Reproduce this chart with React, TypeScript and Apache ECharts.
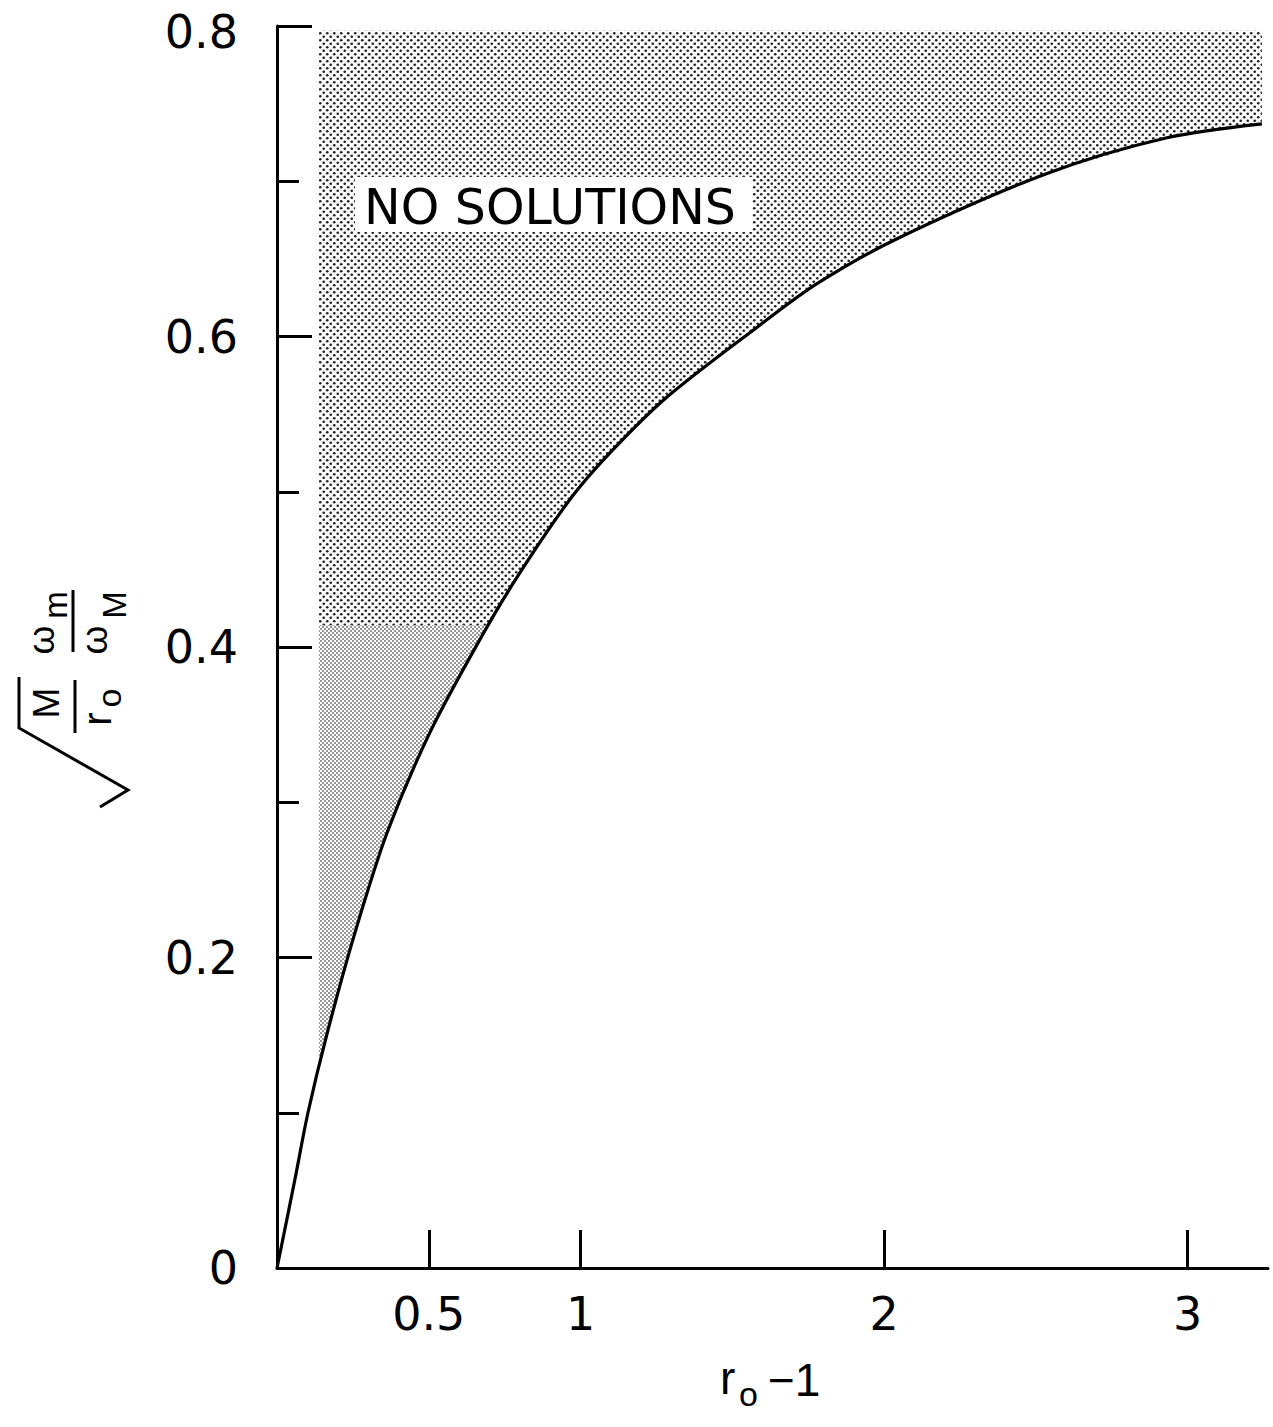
import React, { useEffect, useRef } from "react";
import * as echarts from "echarts";

// Curve: x = r0 - 1, y = sqrt(M/r0) * (omega_m / omega_M)
const curveX = [0, 0.059, 0.102, 0.165, 0.257, 0.362, 0.504, 0.669, 0.791, 0.965, 1.097, 1.285, 1.582, 1.779, 2.043, 2.537, 2.932, 3.245];
const curveY = [0, 0.057, 0.1, 0.151, 0.216, 0.28, 0.345, 0.405, 0.445, 0.495, 0.525, 0.561, 0.606, 0.634, 0.663, 0.705, 0.728, 0.737];

const xTickValues = [0.5, 1, 2, 3];
const xTickLabels = ["0.5", "1", "2", "3"];

// Shaded "no solutions" region bounds
const shadeLeft = 0.138;
const shadeTop = 0.797;
const darkTop = 0.414;

const regionLabel = "NO SOLUTIONS";
const FONT = "'DejaVu Sans', 'Liberation Sans', sans-serif";
const FONT2 = "'Liberation Sans', Arial, sans-serif";

function makeDots(size: number, r: number, color: string) {
  const c = document.createElement("canvas");
  c.width = size;
  c.height = size;
  const ctx = c.getContext("2d")!;
  ctx.fillStyle = "#ffffff";
  ctx.fillRect(0, 0, size, size);
  ctx.fillStyle = color;
  const pts = [
    [size / 4, size / 4],
    [(3 * size) / 4, (3 * size) / 4],
  ];
  pts.forEach(([x, y]) => {
    ctx.beginPath();
    ctx.arc(x, y, r, 0, Math.PI * 2);
    ctx.fill();
  });
  return c;
}

// point on the read curve at a given x (for the shading boundary)
function curveAtX(x: number): number {
  for (let i = 0; i < curveX.length - 1; i++) {
    if (x >= curveX[i] && x <= curveX[i + 1]) {
      const t = (x - curveX[i]) / (curveX[i + 1] - curveX[i]);
      return curveY[i] + t * (curveY[i + 1] - curveY[i]);
    }
  }
  return curveY[curveY.length - 1];
}
// x where the read curve reaches a given y
function curveAtY(y: number): number {
  for (let i = 0; i < curveY.length - 1; i++) {
    if (y >= curveY[i] && y <= curveY[i + 1]) {
      const t = (y - curveY[i]) / (curveY[i + 1] - curveY[i]);
      return curveX[i] + t * (curveX[i + 1] - curveX[i]);
    }
  }
  return curveX[curveX.length - 1];
}

export default function App() {
  const ref = useRef<HTMLDivElement>(null);

  useEffect(() => {
    document.body.style.margin = "0";
    if (!ref.current) return;
    const chart = echarts.init(ref.current, undefined, { renderer: "svg" });

    const upperTile = makeDots(7, 1.35, "#222222");
    const lowerTile = makeDots(4, 0.9, "#666666");
    const upperPattern: any = { image: upperTile, repeat: "repeat", imageWidth: 7, imageHeight: 7 };
    const lowerPattern: any = { image: lowerTile, repeat: "repeat", imageWidth: 4, imageHeight: 4 };

    const curveData = curveX.map((x, i) => [x, curveY[i]]);
    const last = curveX.length - 1;

    const renderRegion = (params: any, api: any) => {
      if (params.dataIndex !== 0) return null;
      const startY = curveAtX(shadeLeft);
      const upper: number[][] = [];
      upper.push(api.coord([shadeLeft, shadeTop]));
      upper.push(api.coord([shadeLeft, startY]));
      for (let i = 0; i <= last; i++) {
        if (curveX[i] > shadeLeft) upper.push(api.coord([curveX[i], curveY[i]]));
      }
      upper.push(api.coord([curveX[last], shadeTop]));

      const lower: number[][] = [];
      lower.push(api.coord([shadeLeft, darkTop]));
      lower.push(api.coord([shadeLeft, startY]));
      for (let i = 0; i <= last; i++) {
        if (curveX[i] > shadeLeft && curveY[i] < darkTop) lower.push(api.coord([curveX[i], curveY[i]]));
      }
      lower.push(api.coord([curveAtY(darkTop), darkTop]));
      return {
        type: "group",
        children: [
          { type: "polygon", shape: { points: upper }, style: { fill: upperPattern, stroke: null } },
          { type: "polygon", shape: { points: lower }, style: { fill: lowerPattern, stroke: null } },
        ],
      };
    };

    const tx = (text: string, x: number, y: number, size: number, align = "center", vAlign = "middle", family = FONT2) => ({
      type: "text",
      x,
      y,
      style: {
        text,
        fontSize: size,
        fontFamily: family,
        fill: "#000",
        align,
        verticalAlign: vAlign,
        textAlign: align,
        textVerticalAlign: vAlign,
      },
    });

    const option: any = {
      animation: false,
      backgroundColor: "#ffffff",
      grid: { left: 277, right: 5, top: 26, bottom: 159 },
      xAxis: {
        type: "value",
        min: 0,
        max: 3.265,
        axisLine: { show: true, onZero: false, lineStyle: { color: "#000", width: 3 } },
        axisTick: { show: true, inside: true, length: 38, customValues: xTickValues, lineStyle: { color: "#000", width: 3 } },
        axisLabel: {
          show: true,
          customValues: xTickValues,
          formatter: (v: number) => xTickLabels[xTickValues.indexOf(v)] ?? String(v),
          fontSize: 46,
          fontFamily: FONT,
          color: "#000",
          margin: 23,
        },
        splitLine: { show: false },
      },
      yAxis: {
        type: "value",
        min: 0,
        max: 0.8,
        interval: 0.2,
        axisLine: { show: true, onZero: false, lineStyle: { color: "#000", width: 3 } },
        axisTick: { show: true, inside: true, length: 35, lineStyle: { color: "#000", width: 3 } },
        minorTick: { show: true, splitNumber: 2, length: 22, lineStyle: { color: "#000", width: 3 } },
        axisLabel: {
          fontSize: 46,
          fontFamily: FONT,
          color: "#000",
          margin: 39,
          formatter: (v: number) => (v >= 0.79 ? "{t|" + v + "}" : "{n|" + v + "}"),
          rich: {
            t: { fontSize: 46, fontFamily: FONT, color: "#000", padding: [12, 0, 0, 0] },
            n: { fontSize: 46, fontFamily: FONT, color: "#000" },
          },
        },
        splitLine: { show: false },
        minorSplitLine: { show: false },
      },
      series: [
        {
          type: "custom",
          coordinateSystem: "cartesian2d",
          data: curveData,
          renderItem: renderRegion,
          silent: true,
          z: 1,
        },
        {
          type: "line",
          data: curveData,
          smooth: 0.3,
          showSymbol: false,
          symbol: "none",
          lineStyle: { color: "#000", width: 3.2 },
          silent: true,
          z: 5,
        },
      ],
      graphic: [
        {
          type: "rect",
          z: 50,
          shape: { x: 355, y: 177, width: 397, height: 55 },
          style: { fill: "#ffffff", stroke: null },
        },
        { ...tx(regionLabel, 364, 207, 49, "left", "middle", FONT), z: 51 },
        // x-axis title: r0 - 1
        { ...tx("r", 720, 1378, 46, "left", "middle"), z: 51 },
        { ...tx("o", 739, 1394, 34, "left", "middle"), z: 51 },
        { ...tx("\u22121", 768, 1380, 46, "left", "middle"), z: 51 },
        // y-axis title, rotated
        {
          type: "group",
          x: 74,
          y: 810,
          rotation: Math.PI / 2,
          z: 51,
          children: [
            {
              type: "polyline",
              shape: { points: [[133, -55], [82, -55], [20, 54], [3, 26]] },
              style: { stroke: "#000", lineWidth: 3, fill: null },
            },
            tx("M", 107, -28, 37),
            { type: "line", shape: { x1: 77, y1: 1, x2: 130, y2: 1 }, style: { stroke: "#000", lineWidth: 3 } },
            tx("r", 91, 23, 40),
            tx("o", 112, 35, 34),
            tx("\u03c9", 170, -33, 37),
            tx("m", 205, -19, 33),
            { type: "line", shape: { x1: 158, y1: -1, x2: 220, y2: -1 }, style: { stroke: "#000", lineWidth: 3 } },
            tx("\u03c9", 170, 20, 37),
            tx("M", 205, 40, 33),
          ],
        },
      ],
    };

    chart.setOption(option);
    return () => chart.dispose();
  }, []);

  return <div ref={ref} style={{ width: 1273, height: 1427 }} />;
}
